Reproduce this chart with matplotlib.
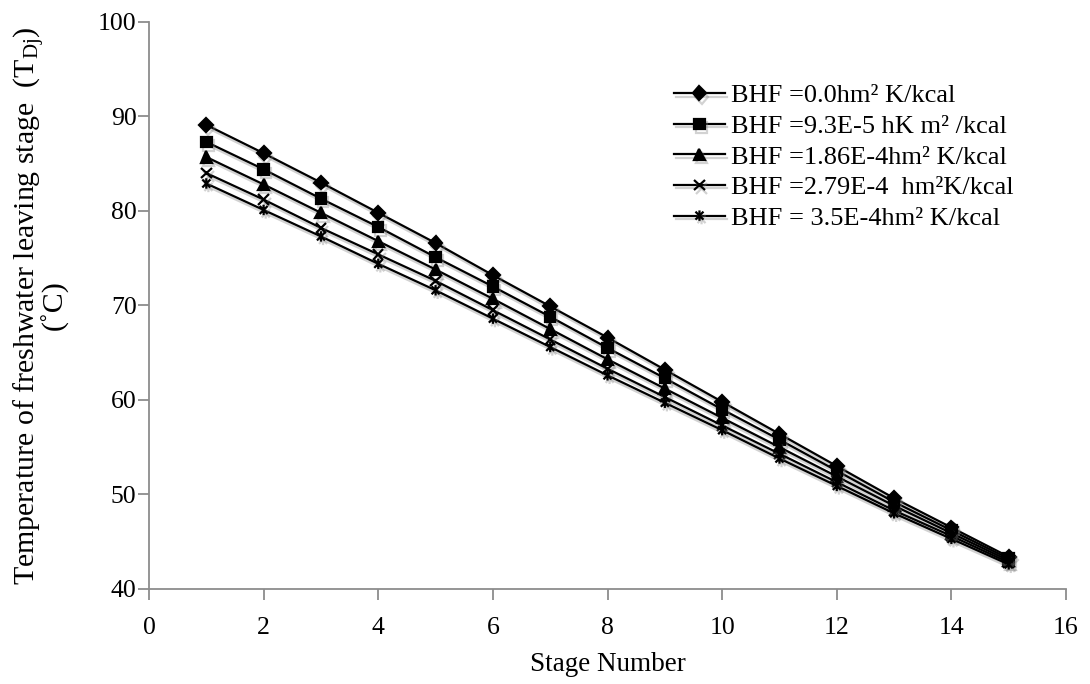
import matplotlib
matplotlib.use("Agg")
import matplotlib.pyplot as plt
import matplotlib.patheffects as pe
from matplotlib.path import Path
from matplotlib.markers import MarkerStyle

plt.rcParams["font.family"] = ["Liberation Serif", "DejaVu Serif"]
plt.rcParams["mathtext.fontset"] = "custom"
plt.rcParams["mathtext.rm"] = "Liberation Serif"
plt.rcParams["mathtext.it"] = "Liberation Serif:italic"

stages = list(range(1, 16))

bhf_0 = [89.1, 86.1, 83.0, 79.8, 76.6, 73.2, 69.9, 66.6, 63.2, 59.8, 56.4, 53.0, 49.6, 46.5, 43.4]
bhf_93e5 = [87.3, 84.4, 81.3, 78.3, 75.1, 72.0, 68.8, 65.5, 62.3, 59.0, 55.8, 52.5, 49.2, 46.2, 43.2]
bhf_186e4 = [85.7, 82.8, 79.8, 76.8, 73.8, 70.7, 67.5, 64.3, 61.2, 58.1, 55.0, 51.9, 48.8, 45.9, 43.0]
bhf_279e4 = [84.0, 81.2, 78.2, 75.4, 72.6, 69.5, 66.4, 63.3, 60.3, 57.3, 54.3, 51.3, 48.3, 45.6, 42.8]
bhf_35e4 = [82.9, 80.1, 77.3, 74.4, 71.6, 68.6, 65.6, 62.6, 59.7, 56.8, 53.8, 50.9, 48.0, 45.3, 42.6]

labels = [
    "BHF =0.0hm² K/kcal",
    "BHF =9.3E-5 hK m² /kcal",
    "BHF =1.86E-4hm² K/kcal",
    "BHF =2.79E-4  hm²K/kcal",
    "BHF = 3.5E-4hm² K/kcal",
]

x_ticks = list(range(0, 17, 2))
y_ticks = list(range(40, 101, 10))

# asterisk marker: an x with a vertical stroke through it
star_path = Path(
    [(-1, -1), (1, 1), (-1, 1), (1, -1), (0, -1.3), (0, 1.3)],
    [Path.MOVETO, Path.LINETO, Path.MOVETO, Path.LINETO, Path.MOVETO, Path.LINETO],
)
markers = [
    ("D", 7),
    ("s", 7.5),
    ("^", 8),
    ("x", 7.5),
    (MarkerStyle(star_path), 7.5),
]
series = [bhf_0, bhf_93e5, bhf_186e4, bhf_279e4, bhf_35e4]

fig = plt.figure(figsize=(10.9, 6.84), dpi=100)
ax = fig.add_axes([0.1367, 0.139, 0.978 - 0.1367, 0.968 - 0.139])

shadow = [pe.SimpleLineShadow(offset=(1.5, -2.5), shadow_color="gray", alpha=0.35), pe.Normal()]

for vals, (mk, ms), lab in zip(series, markers, labels):
    ax.plot(stages, vals, color="black", linewidth=1.6, marker=mk, markersize=ms,
            markeredgewidth=1.6, markerfacecolor="black", markeredgecolor="black",
            label=lab, path_effects=shadow)

ax.set_xlim(0, 16)
ax.set_ylim(40, 100)
ax.set_xticks(x_ticks)
ax.set_yticks(y_ticks)

for side in ("top", "right"):
    ax.spines[side].set_visible(False)
for side in ("left", "bottom"):
    ax.spines[side].set_color("#8c8c8c")
    ax.spines[side].set_linewidth(1.3)
ax.tick_params(axis="both", direction="out", length=8, width=1.3, color="#8c8c8c",
               labelsize=18.5, labelcolor="black")
ax.tick_params(axis="x", pad=12)
ax.tick_params(axis="y", pad=1)

ax.set_xlabel("Stage Number", fontsize=19.5, labelpad=9.5)
ax.set_ylabel("Temperature of freshwater leaving stage  (T$_{\\mathregular{Dj}}$)\n(˚C)",
              fontsize=21.5, linespacing=0.72, labelpad=21)

leg = ax.legend(loc="upper left", bbox_to_anchor=(674 / 1090, 1 - 84 / 684),
                bbox_transform=fig.transFigure, frameon=False, fontsize=19,
                handlelength=1.93, handletextpad=0.23, labelspacing=0.27, numpoints=1,
                borderaxespad=0, borderpad=0)

fig.savefig("out.png", dpi=100)
